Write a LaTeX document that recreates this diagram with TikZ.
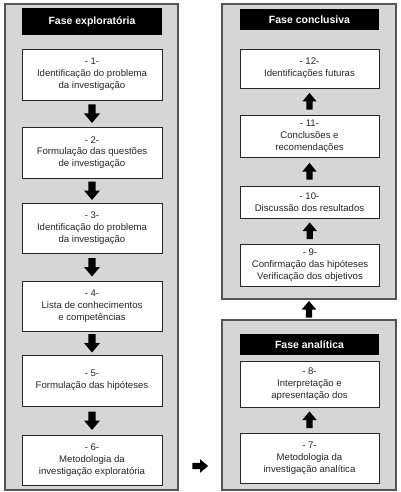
\documentclass[tikz,border=0pt]{standalone}
\usepackage{fontspec}
\setmainfont{Liberation Sans}
\usetikzlibrary{calc}
\definecolor{panelgray}{HTML}{D6D6D6}
\definecolor{edgegray}{HTML}{555555}
\tikzset{
  panel/.style={draw=edgegray, line width=1.1pt, fill=panelgray, inner sep=0pt},
  header/.style={fill=black, text=white, inner sep=0pt, minimum width=140pt,
    font=\fontsize{10.5}{12}\selectfont\bfseries},
  stepbox/.style={draw=black!85, line width=0.8pt, fill=white, inner sep=0pt,
    minimum width=140pt, align=center, text=black!85,
    font=\fontsize{9.6}{11.8}\selectfont},
  blockarr/.pic={\fill[black] (-3.6,-9) -- (3.6,-9) -- (3.6,0) -- (8,0) -- (0,9.5) -- (-8,0) -- (-3.6,0) -- cycle;}
}
\begin{document}
\begin{tikzpicture}[x=1pt,y=-1pt]
\useasboundingbox (0,0) rectangle (400,492);
% panels
\node[panel, minimum width=173pt, minimum height=486pt] (P1) at (91.5,247) {};
\node[panel, minimum width=174pt, minimum height=295pt] (P2) at (309,151.5) {};
\node[panel, minimum width=174pt, minimum height=170pt] (P3) at (309,405) {};
% headers
\node[header, minimum height=27pt] (H1) at (92,21.5) {Fase exploratória};
\node[header, minimum height=21pt, minimum width=139pt] (H2) at (309.5,19.5) {Fase conclusiva};
\node[header, minimum height=21pt, minimum width=139pt] (H3) at (309.5,344.5) {Fase analítica};
% left column
\node[stepbox, minimum height=51pt] (b1) at (92,74.5) {- 1-\\Identificação do problema\\da investigação};
\node[stepbox, minimum height=51pt] (b2) at (92,152.5) {- 2-\\Formulação das questões\\de investigação};
\node[stepbox, minimum height=50pt] (b3) at (92,228) {- 3-\\Identificação do problema\\da investigação};
\node[stepbox, minimum height=50pt] (b4) at (92,306) {- 4-\\Lista de conhecimentos\\e competências};
\node[stepbox, minimum height=51pt] (b5) at (92,380.5) {- 5-\\Formulação das hipóteses};
\node[stepbox, minimum height=50pt] (b6) at (92,460) {- 6-\\Metodologia da\\investigação exploratória};
% right bottom
\node[stepbox, minimum height=46pt, minimum width=139pt] (b8) at (309.5,384) {- 8-\\Interpretação e\\apresentação dos};
\node[stepbox, minimum height=50pt, minimum width=139pt] (b7) at (309.5,458) {- 7-\\Metodologia da\\investigação analítica};
% right top
\node[stepbox, minimum height=42pt, minimum width=139pt] (b9) at (310,265) {- 9-\\Confirmação das hipóteses\\Verificação dos objetivos};
\node[stepbox, minimum height=32pt, minimum width=139pt] (b10) at (309.5,202) {- 10-\\Discussão dos resultados};
\node[stepbox, minimum height=42pt, minimum width=139pt] (b11) at (309.5,136) {- 11-\\Conclusões e\\recomendações};
\node[stepbox, minimum height=39pt, minimum width=139pt] (b12) at (309.5,68.5) {- 12-\\Identificações futuras};
% arrows left column
\foreach \a/\b in {b1/b2,b2/b3,b3/b4,b4/b5,b5/b6}
  \pic at ($(\a.south)!0.5!(\b.north)$) {blockarr};
% arrows right column (upwards)
\foreach \a/\b in {b7/b8,b9/b10,b10/b11,b11/b12}
  \pic[rotate=180, scale=0.9] at ($(\a.north)!0.5!(\b.south)$) {blockarr};
\pic[rotate=180, scale=0.9] at ($(P3.north)!0.5!(P2.south)$) {blockarr};
% arrow between panels
\pic[rotate=90, scale=0.85] at ($(P1.east |- b6)!0.5!(P3.west |- b6)+(0,6)$) {blockarr};
\end{tikzpicture}
\end{document}
